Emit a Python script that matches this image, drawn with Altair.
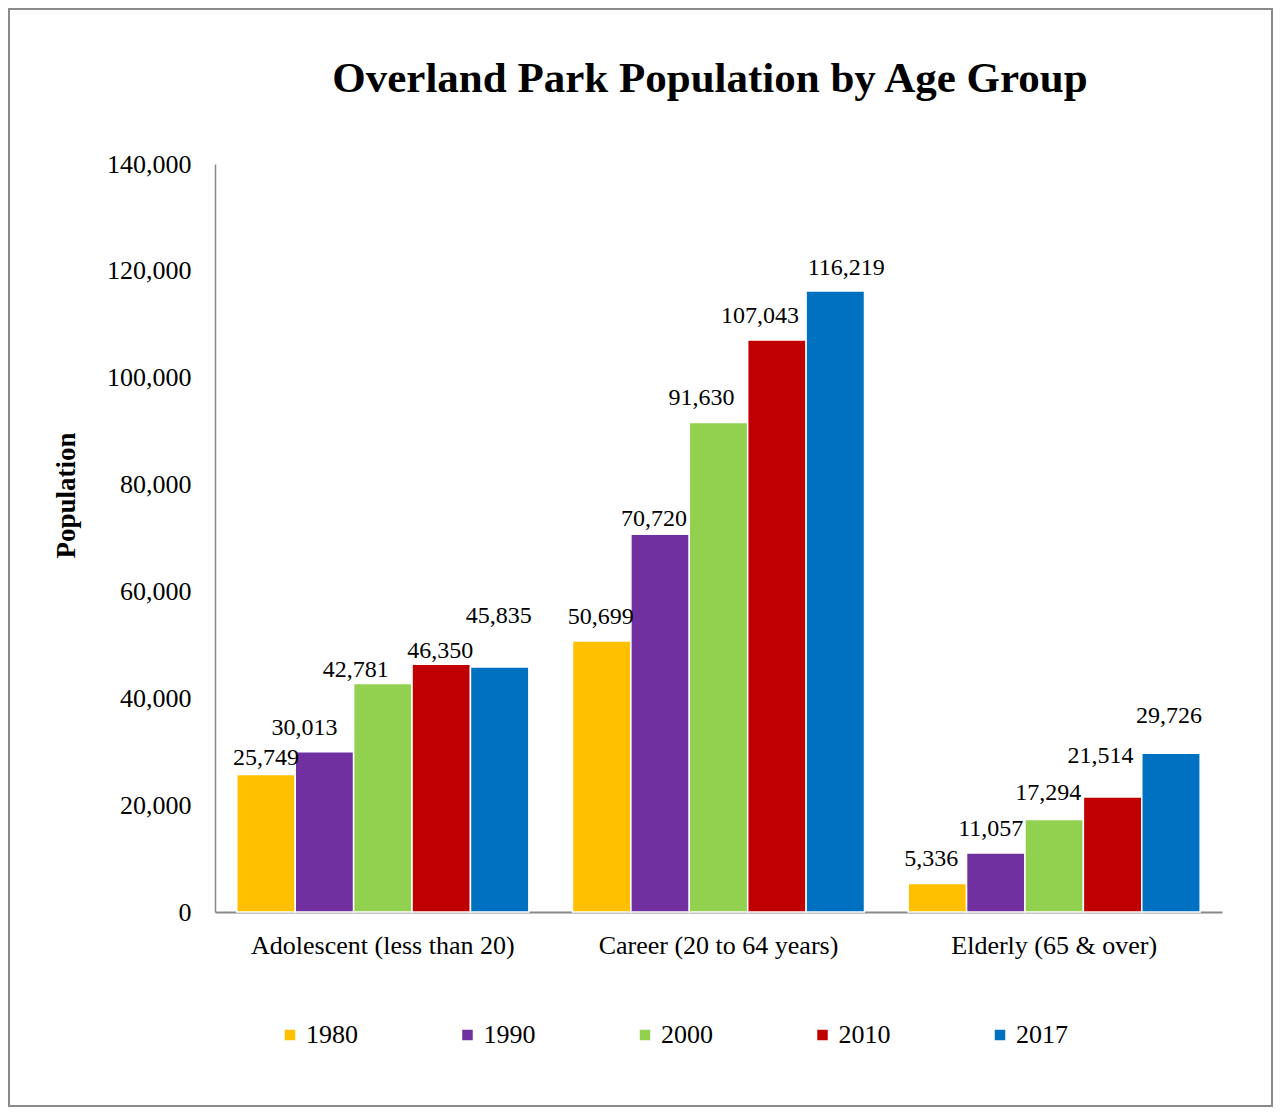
import altair as alt
import pandas as pd

groups = ["Adolescent (less than 20)", "Career (20 to 64 years)", "Elderly (65 & over)"]
years = ["1980", "1990", "2000", "2010", "2017"]
colors = ["#FFC000", "#7030A0", "#92D050", "#C00000", "#0070C0"]
values_1980 = [25749, 50699, 5336]
values_1990 = [30013, 70720, 11057]
values_2000 = [42781, 91630, 17294]
values_2010 = [46350, 107043, 21514]
values_2017 = [45835, 116219, 29726]
title_text = "Overland Park Population by Age Group"

# hand-placed data-label nudges (pixels), per year, per group, as in the reference
label_dx = {
    "1980": [0, -1, -6],
    "1990": [-20, -6, -5],
    "2000": [-27, -17, -6],
    "2010": [-1, -17, -12],
    "2017": [-1, 11, -2],
}
label_lift = {
    "1980": [17, 25, 25],
    "1990": [25, 16, 25],
    "2000": [14, 25, 28],
    "2010": [14, 25, 42],
    "2017": [52, 24, 38],
}

series = [values_1980, values_1990, values_2000, values_2010, values_2017]
rows = []
for y, vals in zip(years, series):
    for g, v in zip(groups, vals):
        rows.append({"group": g, "year": y, "pop": v})
df = pd.DataFrame(rows)

FONT = "Liberation Serif"
W, H = 1007, 748

x_scale = alt.Scale(domain=groups, paddingInner=0.13, paddingOuter=0.065)
xoff_scale = alt.Scale(domain=years, paddingInner=0, paddingOuter=0)
y_scale = alt.Scale(domain=[0, 140000], nice=False)

x_enc = alt.X("group:N", sort=groups, title=None, scale=x_scale,
              axis=alt.Axis(labelAngle=0, labelFontSize=26, labelFont=FONT, labelColor="#000",
                            labelPadding=20, labelLimit=0, ticks=False,
                            domainColor="#898989", domainWidth=2))
xoff = alt.XOffset("year:N", sort=years, scale=xoff_scale)
y_enc = alt.Y("pop:Q", title="Population", scale=y_scale,
              axis=alt.Axis(values=list(range(0, 140001, 20000)), format=",d", grid=False, ticks=False,
                            labelFontSize=26, labelFont=FONT, labelColor="#000", labelPadding=24,
                            domainColor="#898989", domainWidth=1.5,
                            titleFont=FONT, titleFontSize=27, titleFontWeight="bold", titleColor="#000",
                            titleX=-149, titleY=331, titleAngle=270, titleAlign="center",
                            titleBaseline="middle"))

base = alt.Chart(df)

bars = base.mark_bar(stroke="white", strokeWidth=1.5).encode(
    x=x_enc, xOffset=xoff, y=y_enc,
    color=alt.Color("year:N", sort=years, scale=alt.Scale(domain=years, range=colors),
                    legend=alt.Legend(title=None, orient="none", direction="horizontal",
                                      legendX=62, legendY=858, symbolType="square", symbolSize=110,
                                      symbolStrokeWidth=0, labelFont=FONT, labelFontSize=26,
                                      labelColor="#000", columnPadding=96.5, labelOffset=3)),
)

label_layers = []
for y in years:
    for gi, g in enumerate(groups):
        lbl = base.transform_filter(
            (alt.datum.year == y) & (alt.datum.group == g)
        ).mark_text(font=FONT, fontSize=24, color="#000", baseline="alphabetic",
                    dx=label_dx[y][gi], dy=-(label_lift[y][gi] - 8)).encode(
            x=alt.X("group:N", sort=groups, scale=x_scale),
            xOffset=alt.XOffset("year:N", sort=years, scale=xoff_scale),
            y=alt.Y("pop:Q", scale=y_scale),
            text=alt.Text("pop:Q", format=",d"),
        )
        label_layers.append(lbl)

title = alt.Chart(pd.DataFrame({"t": [title_text]})).mark_text(
    font=FONT, fontSize=43, fontWeight="bold", color="#000", align="center", baseline="alphabetic"
).encode(x=alt.value(495), y=alt.value(-72), text="t:N")

frame = alt.Chart(pd.DataFrame({"a": [0]})).mark_rect(fill=None, stroke="#8a8a8a", strokeWidth=2).encode(
    x=alt.value(-206), x2=alt.value(W + 50), y=alt.value(-155), y2=alt.value(H + 194),
)

chart = alt.layer(frame, title, bars, *label_layers).properties(
    width=W, height=H,
    autosize=alt.AutoSizeParams(type="none"),
    padding={"left": 207, "top": 156, "right": 51, "bottom": 195},
).configure_view(stroke=None)

chart.save("out.html", embed_options={"renderer": "svg", "actions": False})
